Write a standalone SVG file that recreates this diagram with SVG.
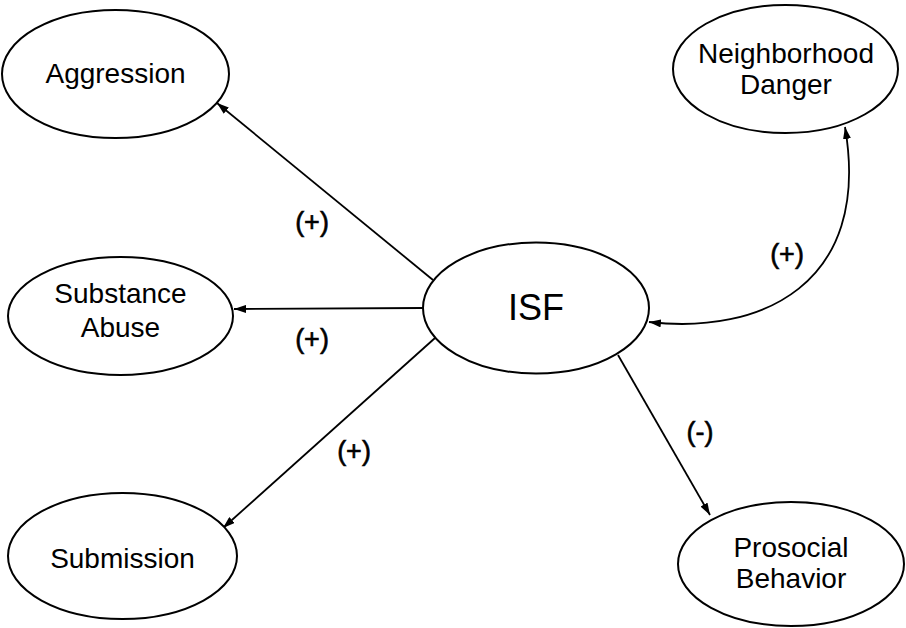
<svg xmlns="http://www.w3.org/2000/svg" width="906" height="628" viewBox="0 0 906 628">
<style>
.node ellipse{fill:#fff;stroke:#000;stroke-width:2}
.node text{font-family:"Liberation Sans",Arial,sans-serif;font-size:28px;text-anchor:middle;fill:#000}
.edge{fill:none;stroke:#000;stroke-width:1.8}
.lbl{font-family:"Liberation Sans",Arial,sans-serif;font-size:27px;text-anchor:middle;fill:#000;stroke:#000;stroke-width:0.6}
</style>
<defs>
<marker id="ah" viewBox="0 0 12 8" refX="12" refY="4" markerWidth="12" markerHeight="8" markerUnits="userSpaceOnUse" orient="auto">
<path d="M0,0 L12,4 L0,8 Z" fill="#000"/>
</marker>
<marker id="ahs" viewBox="0 0 12 8" refX="12" refY="4" markerWidth="12" markerHeight="8" markerUnits="userSpaceOnUse" orient="auto-start-reverse">
<path d="M0,0 L12,4 L0,8 Z" fill="#000"/>
</marker>
</defs>
<rect width="906" height="628" fill="#fff"/>
<g id="connectors">
<line class="edge" x1="433" y1="280" x2="217" y2="103" marker-end="url(#ah)"/>
<line class="edge" x1="423" y1="308" x2="234" y2="309" marker-end="url(#ah)"/>
<line class="edge" x1="435" y1="338" x2="223" y2="528" marker-end="url(#ah)"/>
<line class="edge" x1="618" y1="355" x2="710" y2="515" marker-end="url(#ah)"/>
<path class="edge" d="M649,322 C760,335 872,285 845,127" marker-start="url(#ahs)" marker-end="url(#ah)"/>
<text class="lbl" x="312" y="231">(+)</text>
<text class="lbl" x="312" y="348">(+)</text>
<text class="lbl" x="354" y="460">(+)</text>
<text class="lbl" x="787" y="263">(+)</text>
<text class="lbl" x="700" y="441">(-)</text>
</g>
<g id="aggression" class="node">
<ellipse cx="115.5" cy="74" rx="113.5" ry="64"/>
<text x="115.5" y="83">Aggression</text>
</g>
<g id="neighborhood-danger" class="node">
<ellipse cx="785.5" cy="69" rx="112.5" ry="64"/>
<text x="786" y="63">Neighborhood</text>
<text x="786" y="94">Danger</text>
</g>
<g id="substance-abuse" class="node">
<ellipse cx="120.5" cy="316" rx="112.5" ry="59"/>
<text x="120.5" y="303">Substance</text>
<text x="120.5" y="337">Abuse</text>
</g>
<g id="isf" class="node">
<ellipse cx="536" cy="308" rx="113" ry="65.5"/>
<text x="536" y="320" style="font-size:36px">ISF</text>
</g>
<g id="submission" class="node">
<ellipse cx="122.5" cy="556" rx="114.5" ry="63"/>
<text x="122.5" y="568">Submission</text>
</g>
<g id="prosocial-behavior" class="node">
<ellipse cx="791" cy="564" rx="113" ry="62"/>
<text x="791" y="557">Prosocial</text>
<text x="791" y="588">Behavior</text>
</g>
</svg>
